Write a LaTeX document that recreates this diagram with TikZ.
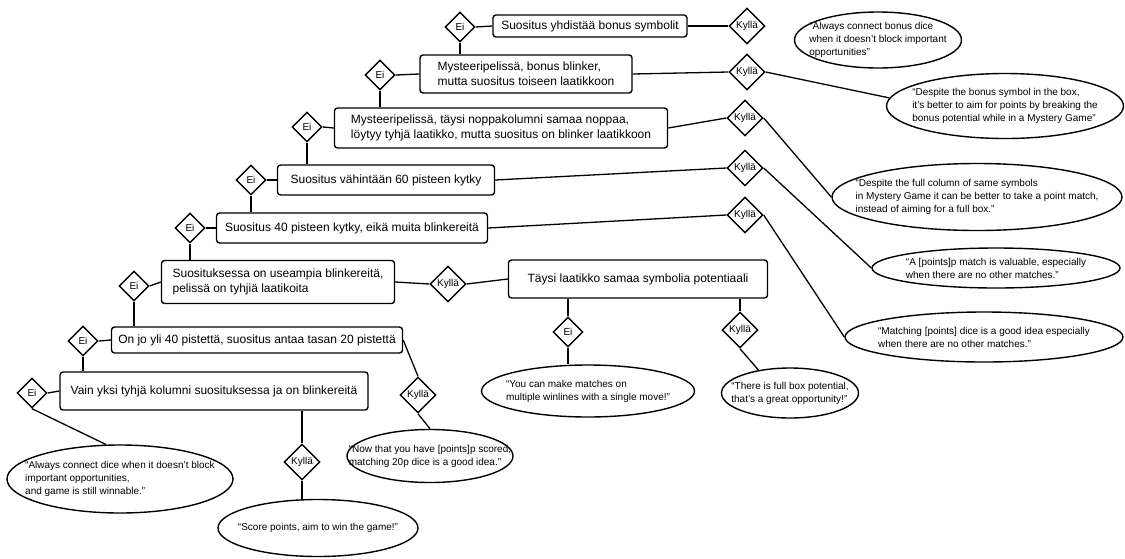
\documentclass[tikz,border=0pt]{standalone}
\usepackage{fontspec}
\setmainfont{Liberation Sans}
\usetikzlibrary{shapes.geometric}
\tikzset{
  cond/.style={draw,rounded corners=3pt,line width=1.4pt,align=left,inner xsep=3pt,inner ysep=3pt,font=\fontsize{12}{15}\selectfont},
  ans/.style={draw,diamond,aspect=1,line width=1.4pt,inner sep=1pt,font=\fontsize{10}{10}\selectfont},
  ei/.style={ans,minimum size=30pt},
  kylla/.style={ans,minimum size=36pt},
  advice/.style={draw,ellipse,line width=1.4pt,inner sep=0pt},
  tip/.style={align=left,inner sep=0pt,font=\fontsize{10}{13}\selectfont},
  link/.style={line width=1.3pt}
}

\begin{document}
\begin{tikzpicture}[x=1pt,y=-1pt]
        \useasboundingbox (0,0) rectangle (1125,558);
        \node[cond,minimum width=194pt,minimum height=22pt] (b1) at (590,26) {Suositus yhdistää bonus symbolit};
        \node[cond,minimum width=212pt,minimum height=38pt] (b2) at (526,74) {Mysteeripelissä, bonus blinker,\\mutta suositus toiseen laatikkoon};
        \node[cond,minimum width=333pt,minimum height=40pt] (b3) at (501,128) {Mysteeripelissä, täysi noppakolumni samaa noppaa,\\löytyy tyhjä laatikko, mutta suositus on blinker laatikkoon};
        \node[cond,minimum width=217pt,minimum height=30pt] (b4) at (386,180) {Suositus vähintään 60 pisteen kytky};
        \node[cond,minimum width=271pt,minimum height=30pt] (b5) at (352,228) {Suositus 40 pisteen kytky, eikä muita blinkereitä};
        \node[cond,minimum width=233pt,minimum height=43pt] (b6) at (278,282) {Suosituksessa on useampia blinkereitä,\\pelissä on tyhjiä laatikoita};
        \node[cond,minimum width=259pt,minimum height=38pt] (b7) at (638,279) {Täysi laatikko samaa symbolia potentiaali};
        \node[cond,minimum width=291pt,minimum height=26pt] (b8) at (257,340) {On jo yli 40 pistettä, suositus antaa tasan 20 pistettä};
        \node[cond,minimum width=308pt,minimum height=38pt] (b9) at (214,391) {Vain yksi tyhjä kolumni suosituksessa ja on blinkereitä};

        \node[ei] (e1) at (460,27) {Ei};
        \node[ei] (e2) at (380,75) {Ei};
        \node[ei] (e3) at (307,127) {Ei};
        \node[ei] (e4) at (251,180) {Ei};
        \node[ei] (e5) at (190,228) {Ei};
        \node[ei] (e6) at (134,286) {Ei};
        \node[ei] (e7) at (568,332) {Ei};
        \node[ei] (e8) at (83,341) {Ei};
        \node[ei] (e9) at (32,393) {Ei};

        \node[kylla] (k1) at (747,26) {Kyllä};
        \node[kylla] (k2) at (747,72) {Kyllä};
        \node[kylla] (k3) at (745,118) {Kyllä};
        \node[kylla] (k4) at (745,168) {Kyllä};
        \node[kylla] (k5) at (745,215) {Kyllä};
        \node[kylla] (k6) at (448,284) {Kyllä};
        \node[kylla] (k7) at (740,330) {Kyllä};
        \node[kylla] (k8) at (418,395) {Kyllä};
        \node[kylla] (k9) at (302,462) {Kyllä};

        \node[advice,minimum width=167pt,minimum height=56pt,label={[tip]center:{“Always connect bonus dice\\when it doesn’t block important\\opportunities”}}] (a1) at (878,40) {};
        \node[advice,minimum width=237pt,minimum height=65pt,label={[tip]center:{“Despite the bonus symbol in the box,\\it’s better to aim for points by breaking the\\bonus potential while in a Mystery Game”}}] (a2) at (1005,106) {};
        \node[advice,minimum width=290pt,minimum height=67pt,label={[tip]center:{“Despite the full column of same symbols\\in Mystery Game it can be better to take a point match,\\instead of aiming for a full box.”}}] (a3) at (977,197) {};
        \node[advice,minimum width=248pt,minimum height=40pt,label={[tip]center:{“A [points]p match is valuable, especially\\when there are no other matches.”}}] (a4) at (996,268) {};
        \node[advice,minimum width=278pt,minimum height=50pt,label={[tip]center:{“Matching [points] dice is a good idea especially\\when there are no other matches.”}}] (a5) at (984,337) {};
        \node[advice,minimum width=213pt,minimum height=52pt,label={[tip]center:{“You can make matches on\\multiple winlines with a single move!”}}] (a6) at (588,391) {};
        \node[advice,minimum width=137pt,minimum height=50pt,label={[tip]center:{“There is full box potential,\\that’s a great opportunity!”}}] (a7) at (790,393) {};
        \node[advice,minimum width=166pt,minimum height=53pt,label={[tip]center:{“Now that you have [points]p scored,\\matching 20p dice is a good idea.”}}] (a8) at (430,456) {};
        \node[advice,minimum width=226pt,minimum height=68pt,label={[tip]center:{“Always connect dice when it doesn’t block\\important opportunities,\\and game is still winnable.”}}] (a9) at (120,479) {};
        \node[advice,minimum width=200pt,minimum height=57pt,label={[tip]center:{“Score points, aim to win the game!”}}] (a10) at (318,528) {};

        \draw[link] (e1.east) -- (b1.west);
        \draw[link] (b1.east) -- (k1.west);
        \draw[link] (e1.south) -- (e1.south |- b2.north);
        \draw[link] (e2.east) -- (b2.west);
        \draw[link] (b2.east) -- (k2.west);
        \draw[link] (k2.east) -- (a2.176);
        \draw[link] (e2.south) -- (e2.south |- b3.north);
        \draw[link] (e3.east) -- (b3.west);
        \draw[link] (b3.east) -- (k3.west);
        \draw[link] (k3.east) -- (a3.west);
        \draw[link] (e3.south) -- (e3.south |- b4.north);
        \draw[link] (e4.east) -- (b4.west);
        \draw[link] (b4.east) -- (k4.west);
        \draw[link] (k4.east) -- (a4.west);
        \draw[link] (e4.south) -- (e4.south |- b5.north);
        \draw[link] (e5.east) -- (b5.west);
        \draw[link] (b5.east) -- (k5.west);
        \draw[link] (k5.east) -- (a5.west);
        \draw[link] (e5.south) -- (e5.south |- b6.north);
        \draw[link] (e6.east) -- (b6.west);
        \draw[link] (b6.east) -- (k6.west);
        \draw[link] (k6.east) -- (b7.west);
        \draw[link] (b7.south -| e7) -- (e7.north);
        \draw[link] (e7.south) -- (e7.south |- a6.north);
        \draw[link] (b7.south -| k7) -- (k7.north);
        \draw[link] (k7.south) -- (a7.144);
        \draw[link] (e6.south) -- (e6.south |- b8.north);
        \draw[link] (e8.east) -- (b8.west);
        \draw[link] (b8.east) -- (k8.north);
        \draw[link] (k8.south) -- (a8.north);
        \draw[link] (e8.south) -- (e8.south |- b9.north);
        \draw[link] (e9.east) -- (b9.west);
        \draw[link] (e9.south) -- (a9.112);
        \draw[link] (b9.south -| k9) -- (k9.north);
        \draw[link] (k9.south) -- (k9.south |- a10.north);
\end{tikzpicture}
\end{document}
